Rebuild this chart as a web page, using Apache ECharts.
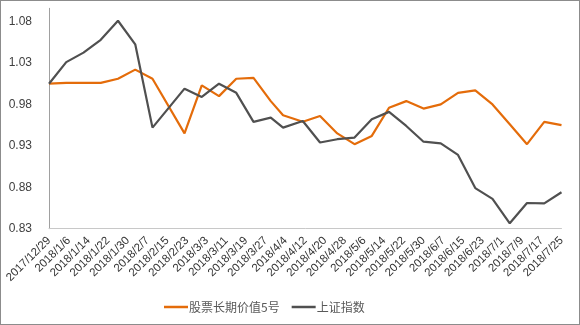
<!DOCTYPE html>
<html>
<head>
<meta charset="utf-8">
<script src="https://cdn.jsdelivr.net/npm/echarts@6/dist/echarts.min.js"></script>
<style>
html,body{margin:0;padding:0;background:#fff;}
#wrap{width:580px;height:325px;box-sizing:border-box;border:1px solid #8c8c8c;position:relative;overflow:hidden;}
#chart{position:absolute;left:-1px;top:-1px;width:580px;height:325px;}
</style>
</head>
<body>
<div id="wrap"><div id="chart"></div></div>
<script>
// Data point dates
const dates = ['2017/12/29','2018/1/5','2018/1/12','2018/1/19','2018/1/26','2018/2/2','2018/2/9',
  '2018/2/22','2018/3/1','2018/3/8','2018/3/15','2018/3/22','2018/3/29','2018/4/3','2018/4/11',
  '2018/4/18','2018/4/25','2018/5/2','2018/5/9','2018/5/16','2018/5/23','2018/5/30','2018/6/6',
  '2018/6/13','2018/6/20','2018/6/27','2018/7/4','2018/7/11','2018/7/18','2018/7/25'];
// 股票长期价值5号
const fundValues = [1.005,1.006,1.006,1.006,1.011,1.022,1.011,
  0.945,1.003,0.990,1.011,1.012,0.984,0.967,0.959,
  0.966,0.945,0.932,0.942,0.976,0.984,0.975,0.980,
  0.994,0.997,0.980,0.956,0.932,0.959,0.955];
// 上证指数
const indexValues = [1.005,1.031,1.0425,1.058,1.081,1.0525,0.952,
  0.999,0.989,1.005,0.994,0.959,0.964,0.952,0.960,
  0.934,0.938,0.940,0.962,0.971,0.954,0.935,0.933,
  0.919,0.879,0.866,0.8365,0.861,0.8605,0.874];
// Axis tick labels
const xTickLabels = ['2017/12/29','2018/1/6','2018/1/14','2018/1/22','2018/1/30','2018/2/7','2018/2/15',
  '2018/2/23','2018/3/3','2018/3/11','2018/3/19','2018/3/27','2018/4/4','2018/4/12','2018/4/20',
  '2018/4/28','2018/5/6','2018/5/14','2018/5/22','2018/5/30','2018/6/7','2018/6/15','2018/6/23',
  '2018/7/1','2018/7/9','2018/7/17','2018/7/25'];
const yTickLabels = ['0.83','0.88','0.93','0.98','1.03','1.08'];
const seriesNames = ['股票长期价值5号','上证指数'];

function dayOffset(s){
  const p = s.split('/').map(Number);
  return (Date.UTC(p[0],p[1]-1,p[2]) - Date.UTC(2017,11,29)) / 86400000;
}
const xDays = dates.map(dayOffset);
const fundData = xDays.map((d,i)=>[d,fundValues[i]]);
const indexData = xDays.map((d,i)=>[d,indexValues[i]]);
const xStep = 8;
const xMax = xStep*(xTickLabels.length-1);

const chart = echarts.init(document.getElementById('chart'), null, {renderer:'canvas'});
chart.setOption({
  animation:false,
  backgroundColor:'#ffffff',
  grid:{left:49, right:18.5, top:8.3, bottom:96.3, containLabel:false},
  legend:{
    left:159, top:296,
    icon:'rect', itemWidth:24, itemHeight:2.5, itemGap:12,
    textStyle:{fontFamily:'"Noto Sans CJK SC", sans-serif', fontSize:12, color:'#595959', padding:[0,0,0,-4]},
    data:seriesNames
  },
  xAxis:{
    type:'value', min:0, max:xMax, interval:xStep,
    axisLine:{show:true, lineStyle:{color:'#c8c8c8', width:1}},
    axisTick:{show:false},
    splitLine:{show:false},
    axisLabel:{
      rotate:45, margin:10, fontFamily:'"Liberation Sans", Arial, sans-serif', fontSize:11.5, color:'#333',
      showMinLabel:true, showMaxLabel:true,
      formatter:function(v){ const i=Math.round(v/xStep); return xTickLabels[i]||''; }
    }
  },
  yAxis:{
    type:'value', min:0.83, max:1.096, interval:0.01,
    axisLine:{show:true, lineStyle:{color:'#a0a0a0', width:1}},
    axisTick:{show:false},
    splitLine:{show:false},
    axisLabel:{
      margin:17, fontFamily:'"Liberation Sans", Arial, sans-serif', fontSize:12, color:'#404040',
      showMaxLabel:false,
      formatter:function(v){ const s=v.toFixed(2); return yTickLabels.indexOf(s)>=0 ? s : ''; }
    }
  },
  series:[
    {name:seriesNames[0], type:'line', data:fundData, symbol:'none', color:'#E46C0A',
     lineStyle:{width:2.2, color:'#E46C0A'}},
    {name:seriesNames[1], type:'line', data:indexData, symbol:'none', color:'#505050',
     lineStyle:{width:2.2, color:'#505050'}}
  ]
});
</script>
</body>
</html>
